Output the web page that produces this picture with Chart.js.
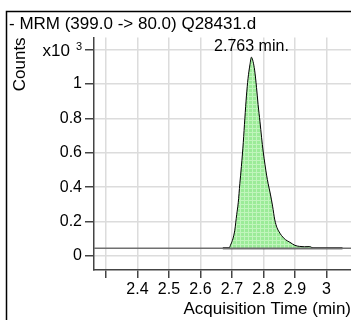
<!DOCTYPE html>
<html>
<head>
<meta charset="utf-8">
<script src="https://cdn.jsdelivr.net/npm/chart.js@4"></script>
<style>
  body { margin: 0; background: #fff; }
  #wrap { position: relative; width: 351px; height: 320px; }
</style>
</head>
<body>
<div id="wrap"><canvas id="chart"></canvas></div>
<script>
// peak trace (minutes, counts x10^3)
const peakTimes = [2.671, 2.690, 2.697, 2.703, 2.709, 2.715, 2.720, 2.725, 2.730, 2.736, 2.741, 2.746, 2.751, 2.757, 2.762,
  2.767, 2.772, 2.778, 2.783, 2.789, 2.794, 2.799, 2.805, 2.810, 2.815, 2.822, 2.829, 2.836, 2.843, 2.850, 2.857,
  2.870, 2.884, 2.900, 2.915, 2.930, 2.947, 2.957];
const peakCounts = [0.045, 0.046, 0.07, 0.10, 0.15, 0.24, 0.31, 0.42, 0.52, 0.66, 0.80, 0.93, 1.03, 1.11, 1.155,
  1.13, 1.08, 0.98, 0.88, 0.78, 0.69, 0.61, 0.53, 0.47, 0.42, 0.36, 0.29, 0.21, 0.165, 0.14, 0.12,
  0.095, 0.08, 0.062, 0.056, 0.054, 0.055, 0.045];

// noise baseline of the whole trace and the integration baseline
const baseTimes = [2.262, 3.078];
const baseCounts = [0.045, 0.045];
const integTimes = [2.671, 3.051];
const integCounts = [0.045, 0.045];

const xTicks = [2.3, 2.4, 2.5, 2.6, 2.7, 2.8, 2.9, 3.0];
const xLabels = ['', '2.4', '2.5', '2.6', '2.7', '2.8', '2.9', '3'];
const yTicks = [0, 0.2, 0.4, 0.6, 0.8, 1.0, 1.2];
const yLabels = ['0', '0.2', '0.4', '0.6', '0.8', '1', 'x10 3'];

const peakText = '2.763 min.';
const FONT = "'Liberation Sans', Arial, sans-serif";

function toPoints(xs, ys) {
  return xs.map((x, i) => ({ x: x, y: ys[i] }));
}

// small green grid fill like the reference
function makePattern() {
  const c = document.createElement('canvas');
  c.width = 4; c.height = 4;
  const g = c.getContext('2d');
  g.fillStyle = 'rgb(155,235,152)';
  g.fillRect(0, 0, 4, 4);
  g.fillStyle = 'rgb(192,245,188)';
  g.fillRect(0, 0, 4, 1);
  g.fillRect(0, 0, 1, 4);
  return g.createPattern(c, 'repeat');
}

const extras = {
  id: 'extras',
  beforeDraw(chart) {
    const ctx = chart.ctx;
    ctx.save();
    ctx.strokeStyle = '#000';
    ctx.lineWidth = 1.5;
    ctx.beginPath();
    ctx.moveTo(6.5, 320);
    ctx.lineTo(6.5, 11.5);
    ctx.lineTo(351, 11.5);
    ctx.stroke();
    ctx.restore();
  },
  afterDraw(chart) {
    const ctx = chart.ctx;
    const xs = chart.scales.x, ys = chart.scales.y;
    ctx.save();
    ctx.fillStyle = '#000';
    // peak label
    let top = 0;
    peakCounts.forEach((v, i) => { if (v > peakCounts[top]) top = i; });
    ctx.font = '16px ' + FONT;
    ctx.textAlign = 'center';
    ctx.textBaseline = 'alphabetic';
    ctx.fillText(peakText, xs.getPixelForValue(peakTimes[top]), ys.getPixelForValue(peakCounts[top]) - 6);
    // exponent label on the top y tick
    const parts = yLabels[yLabels.length - 1].split(' ');
    const ty = ys.getPixelForValue(yTicks[yTicks.length - 1]);
    const right = ys.right - 9 - 3;
    ctx.textAlign = 'right';
    ctx.font = '11px ' + FONT;
    ctx.fillText(parts[1], right, ty + 1);
    const w3 = ctx.measureText(parts[1]).width;
    ctx.font = '17px ' + FONT;
    ctx.fillText(parts[0], right - w3 - 6, ty + 7);
    ctx.restore();
  }
};

const ctx = document.getElementById('chart').getContext('2d');
const chart = new Chart(ctx, {
  type: 'line',
  data: {
    datasets: [
      {
        data: toPoints(baseTimes, baseCounts),
        borderColor: '#707070',
        borderWidth: 1.5,
        pointRadius: 0,
        fill: false
      },
      {
        data: toPoints(peakTimes, peakCounts),
        borderColor: '#000',
        borderWidth: 1,
        backgroundColor: makePattern(),
        pointRadius: 0,
        cubicInterpolationMode: 'monotone',
        fill: { value: 0.045 }
      },
      {
        data: toPoints(integTimes, integCounts),
        borderColor: '#000',
        borderWidth: 2,
        pointRadius: 0,
        fill: false
      }
    ]
  },
  options: {
    responsive: true,
    maintainAspectRatio: false,
    animation: false,
    layout: { padding: { left: 9, top: 12, right: 0, bottom: 0 } },
    plugins: {
      legend: { display: false },
      tooltip: { enabled: false },
      title: {
        display: true,
        text: '- MRM (399.0 -> 80.0) Q28431.d',
        align: 'start',
        color: '#000',
        font: { family: FONT, size: 17, weight: 'normal' },
        padding: { top: 2, bottom: 3 }
      }
    },
    scales: {
      x: {
        type: 'linear',
        min: 2.262,
        max: 3.078,
        afterFit(scale) { scale.height = 50; },
        afterBuildTicks(scale) { scale.ticks = xTicks.map(v => ({ value: v })); },
        grid: { color: '#dcdcdc', lineWidth: 1.5, tickColor: '#444', tickLength: 8 },
        border: { color: '#444', width: 1.5 },
        ticks: {
          autoSkip: false,
          maxRotation: 0,
          padding: 1.5,
          color: '#000',
          font: { family: FONT, size: 16 },
          callback: (v) => xLabels[xTicks.findIndex(t => Math.abs(t - v) < 1e-6)]
        },
        title: {
          display: true,
          text: 'Acquisition Time (min)',
          align: 'end',
          color: '#000',
          font: { family: FONT, size: 17 },
          padding: { top: 0, bottom: 0 }
        }
      },
      y: {
        type: 'linear',
        min: -0.081,
        max: 1.27,
        afterFit(scale) { scale.width = 85; },
        afterBuildTicks(scale) { scale.ticks = yTicks.map(v => ({ value: v })); },
        grid: { color: '#dcdcdc', lineWidth: 1.5, tickColor: '#444', tickLength: 9 },
        border: { color: '#444', width: 1.5 },
        ticks: {
          padding: 3,
          color: '#000',
          font: { family: FONT, size: 16 },
          callback: (v) => {
            const i = yTicks.findIndex(t => Math.abs(t - v) < 1e-6);
            return i === yTicks.length - 1 ? '' : yLabels[i];
          }
        },
        title: {
          display: true,
          text: 'Counts',
          align: 'end',
          color: '#000',
          font: { family: FONT, size: 17 },
          padding: { top: 1, bottom: 0 }
        }
      }
    }
  },
  plugins: [extras]
});
</script>
</body>
</html>
